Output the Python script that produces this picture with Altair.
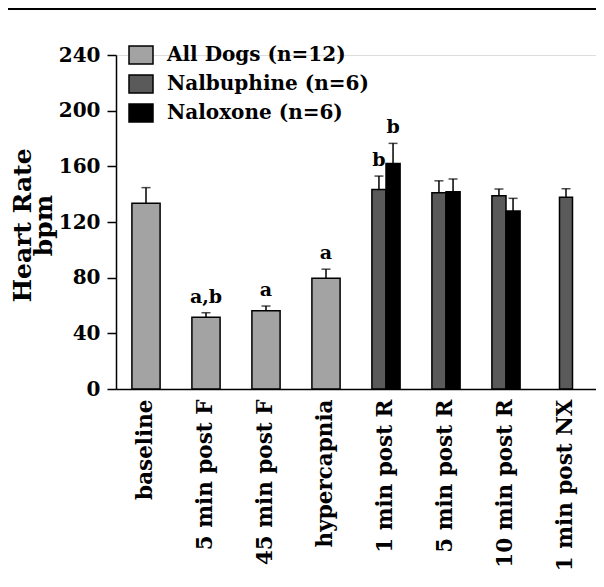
import altair as alt
import pandas as pd

categories = ["baseline", "5 min post F", "45 min post F", "hypercapnia",
              "1 min post R", "5 min post R", "10 min post R", "1 min post NX"]
series_names = ["All Dogs (n=12)", "Nalbuphine (n=6)", "Naloxone (n=6)"]
series_fill = ["#a3a3a3", "#5a5a5a", "#000000"]

all_dogs_mean = [133.4, 51.5, 56.3, 79.6]
all_dogs_sem = [11.3, 3.3, 3.3, 6.5]
all_dogs_sig = ["", "a,b", "a", "a"]

nalbuphine_mean = [143.4, 141.0, 138.9, 137.7]
nalbuphine_sem = [9.6, 8.6, 4.8, 6.2]
nalbuphine_sig = ["b", "", "", ""]

naloxone_mean = [162.0, 141.8, 127.9]
naloxone_sem = [14.5, 9.1, 9.1]
naloxone_sig = ["b", "", ""]

rows = []
for i in range(4):
    rows.append(dict(cat=categories[i], series=series_names[0], mean=all_dogs_mean[i],
                     sem=all_dogs_sem[i], sig=all_dogs_sig[i], grp="single"))
for i in range(4):
    rows.append(dict(cat=categories[4 + i], series=series_names[1], mean=nalbuphine_mean[i],
                     sem=nalbuphine_sem[i], sig=nalbuphine_sig[i], grp="pair" if i < 3 else "nx"))
for i in range(3):
    rows.append(dict(cat=categories[4 + i], series=series_names[2], mean=naloxone_mean[i],
                     sem=naloxone_sem[i], sig=naloxone_sig[i], grp="pair"))
df = pd.DataFrame(rows)
df["upper"] = df["mean"] + df["sem"]

FONT = "DejaVu Serif"

x_enc = alt.X("cat:N", sort=categories,
              scale=alt.Scale(domain=categories, paddingInner=0.53, paddingOuter=0.265),
              axis=alt.Axis(title=None, labelAngle=-90, labelFontSize=21.5, labelFont=FONT,
                            labelFontWeight="bold", labelColor="black", ticks=False,
                            labelPadding=10, domainColor="black", domainWidth=1.5,
                            labelLimit=300))
y_scale = alt.Scale(domain=[0, 240], nice=False)
y_enc = alt.Y("mean:Q", scale=y_scale,
              axis=alt.Axis(values=[0, 40, 80, 120, 160, 200, 240], grid=False,
                            title=["Heart Rate", "bpm"], titleFont=FONT, titleFontSize=25,
                            titleFontWeight="bold", titleColor="black", titleAngle=270,
                            titleAlign="center", titleBaseline="alphabetic",
                            titleX=-86, titleY=170, titleLineHeight=21,
                            labelFont=FONT, labelFontSize=20, labelFontWeight="bold",
                            labelColor="black", tickSize=9, tickWidth=1.5, tickColor="black",
                            domainColor="black", domainWidth=1.5, labelPadding=7))
color_enc = alt.Color("series:N",
                      scale=alt.Scale(domain=series_names, range=series_fill),
                      legend=alt.Legend(title=None, orient="none", legendX=12, legendY=-13,
                                        labelFont=FONT, labelFontSize=20, labelFontWeight="bold",
                                        labelColor="black", labelOffset=13, rowPadding=4,
                                        symbolType="M-1,-0.75H1V0.75H-1Z", symbolSize=576,
                                        symbolStrokeColor="black", symbolStrokeWidth=1.5,
                                        symbolOpacity=1, labelLimit=400, padding=0))
color_nolegend = alt.Color("series:N", scale=alt.Scale(domain=series_names, range=series_fill),
                           legend=None)
xoff = alt.XOffset("series:N",
                   scale=alt.Scale(domain=series_names[1:], paddingInner=0, paddingOuter=0))

base = alt.Chart(df)

single = base.transform_filter(alt.datum.grp == "single")
pair = base.transform_filter(alt.datum.grp == "pair")
nx = base.transform_filter(alt.datum.grp == "nx")

bar_style = dict(stroke="black", strokeWidth=1.5)

bars_single = single.mark_bar(**bar_style).encode(x=x_enc, y=y_enc, color=color_enc)
bars_pair = pair.mark_bar(**bar_style).encode(x=x_enc, y=y_enc, xOffset=xoff, color=color_nolegend)
bars_nx = nx.mark_bar(width=13, **bar_style).encode(x=x_enc, y=y_enc, color=color_nolegend)


def errs(src, offset=False):
    enc_r = dict(x=alt.X("cat:N", sort=categories), y=alt.Y("mean:Q", scale=y_scale),
                 y2="upper:Q")
    enc_t = dict(x=alt.X("cat:N", sort=categories), y=alt.Y("upper:Q", scale=y_scale))
    enc_s = dict(x=alt.X("cat:N", sort=categories), y=alt.Y("upper:Q", scale=y_scale),
                 text="sig:N")
    if offset:
        enc_r["xOffset"] = xoff
        enc_t["xOffset"] = xoff
        enc_s["xOffset"] = xoff
    r = src.mark_rule(color="black", strokeWidth=1.5).encode(**enc_r)
    t = src.mark_tick(color="black", thickness=1.5, size=9).encode(**enc_t)
    s = src.mark_text(font=FONT, fontSize=19, fontWeight="bold", color="black",
                      baseline="bottom", dy=-6).encode(**enc_s)
    return [r, t, s]


top_line = alt.Chart(alt.Data(values=[{"k": 1}])).mark_rule(color="black", strokeWidth=2).encode(
    x=alt.value(-108), x2=alt.value(480), y=alt.value(-46))

layers = [bars_single, bars_pair, bars_nx] + errs(single) + errs(pair, True) + errs(nx) + [top_line]

chart = alt.layer(*layers).properties(
    width=480, height=334,
    padding={"left": 108, "top": 47, "right": 0, "bottom": 190},
    autosize=alt.AutoSizeParams(type="none"),
).configure_view(stroke=None).configure(background="white")

chart.save("out.html", embed_options={"renderer": "svg", "actions": False})
